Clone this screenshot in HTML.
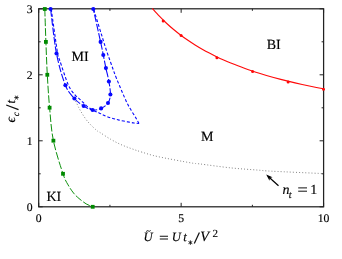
<!DOCTYPE html>
<html><head><meta charset="utf-8"><style>
html,body{margin:0;padding:0;background:#fff;}
body{width:342px;height:259px;overflow:hidden;}
svg{display:block;will-change:transform;}
text{font-family:"Liberation Serif",serif;fill:#000;stroke:#000;stroke-width:0.15px;text-rendering:geometricPrecision;}
</style></head><body>
<svg width="342" height="259" viewBox="0 0 342 259">
<rect width="342" height="259" fill="#fff"/>
<rect x="38.7" y="8.8" width="284.9" height="198.0" fill="none" stroke="#222" stroke-width="1.25"/>
<path d="M38.70 206.80v-4.0M38.70 8.80v4.0M109.93 206.80v-2.0M109.93 8.80v2.0M181.15 206.80v-4.0M181.15 8.80v4.0M252.38 206.80v-2.0M252.38 8.80v2.0M323.60 206.80v-4.0M323.60 8.80v4.0M38.70 206.80h4.0M323.60 206.80h-4.0M38.70 173.80h2.0M323.60 173.80h-2.0M38.70 140.80h4.0M323.60 140.80h-4.0M38.70 107.80h2.0M323.60 107.80h-2.0M38.70 74.80h4.0M323.60 74.80h-4.0M38.70 41.80h2.0M323.60 41.80h-2.0M38.70 8.80h4.0M323.60 8.80h-4.0" stroke="#222" stroke-width="1" fill="none"/>
<path d="M74.40 98.50 C74.68 99.08 75.08 99.95 76.10 102.00 C77.12 104.05 78.60 107.58 80.50 110.80 C82.40 114.02 84.87 118.08 87.50 121.30 C90.13 124.52 94.22 128.23 96.30 130.10 C98.38 131.97 97.63 130.98 100.00 132.50 C102.37 134.02 107.00 137.18 110.50 139.20 C114.00 141.22 117.48 143.02 121.00 144.60 C124.52 146.18 128.08 147.43 131.60 148.70 C135.12 149.97 137.72 150.88 142.10 152.20 C146.48 153.52 149.75 154.82 157.90 156.60 C166.05 158.38 184.05 161.68 191.00 162.90 C197.95 164.12 192.95 163.07 199.60 163.90 C206.25 164.73 221.17 166.87 230.90 167.90 C240.63 168.93 251.17 169.55 258.00 170.10 C264.83 170.65 260.98 170.62 271.90 171.20 C282.82 171.78 314.90 173.20 323.50 173.60" stroke="#777" stroke-width="0.95" stroke-dasharray="0.95 2.12" fill="none"/>
<path d="M44.80 9.00 C44.98 14.48 45.48 30.93 45.90 41.90 C46.32 52.87 46.68 63.83 47.30 74.80 C47.92 85.77 48.58 96.72 49.60 107.70 C50.62 118.68 51.17 129.68 53.40 140.70 C55.63 151.72 60.55 166.43 63.00 173.80 C65.45 181.17 66.33 181.68 68.10 184.90 C69.87 188.12 71.78 190.83 73.60 193.10 C75.42 195.37 76.90 196.70 79.00 198.50 C81.10 200.30 83.92 202.52 86.20 203.90 C88.48 205.28 91.62 206.32 92.70 206.80" stroke="#008a00" stroke-width="0.95" stroke-dasharray="7.6 2" fill="none"/>
<rect x="42.90" y="7.10" width="3.8" height="3.8" fill="#008a00"/>
<rect x="44.00" y="40.00" width="3.8" height="3.8" fill="#008a00"/>
<rect x="45.40" y="72.90" width="3.8" height="3.8" fill="#008a00"/>
<rect x="47.70" y="105.80" width="3.8" height="3.8" fill="#008a00"/>
<rect x="51.50" y="138.80" width="3.8" height="3.8" fill="#008a00"/>
<rect x="61.10" y="171.90" width="3.8" height="3.8" fill="#008a00"/>
<rect x="90.80" y="204.90" width="3.8" height="3.8" fill="#008a00"/>
<path d="M50.60 9.00 C51.58 16.42 54.03 40.80 56.50 53.50 C58.97 66.20 62.42 77.70 65.40 85.20 C68.38 92.70 71.35 95.03 74.40 98.50 C77.45 101.97 80.67 104.08 83.70 106.00 C86.73 107.92 89.70 109.60 92.60 110.00 C95.50 110.40 98.53 109.57 101.10 108.40 C103.67 107.23 106.45 105.32 108.00 103.00 C109.55 100.68 110.25 98.08 110.40 94.50 C110.55 90.92 109.65 85.90 108.90 81.50 C108.15 77.10 106.83 72.52 105.90 68.10 C104.97 63.68 104.18 59.37 103.30 55.00 C102.42 50.63 102.27 49.57 100.60 41.90 C98.93 34.23 94.52 14.48 93.30 9.00" stroke="#0808ff" stroke-width="1.1" stroke-dasharray="7.6 1.8" fill="none"/>
<circle cx="50.60" cy="9.00" r="2.05" fill="#0808ff"/>
<circle cx="56.50" cy="53.50" r="2.05" fill="#0808ff"/>
<circle cx="65.40" cy="85.20" r="2.05" fill="#0808ff"/>
<circle cx="74.40" cy="98.50" r="2.05" fill="#0808ff"/>
<circle cx="83.70" cy="106.00" r="2.05" fill="#0808ff"/>
<circle cx="92.60" cy="110.00" r="2.05" fill="#0808ff"/>
<circle cx="101.10" cy="108.40" r="2.05" fill="#0808ff"/>
<circle cx="108.00" cy="103.00" r="2.05" fill="#0808ff"/>
<circle cx="110.40" cy="94.50" r="2.05" fill="#0808ff"/>
<circle cx="108.90" cy="81.50" r="2.05" fill="#0808ff"/>
<circle cx="105.90" cy="68.10" r="2.05" fill="#0808ff"/>
<circle cx="103.30" cy="55.00" r="2.05" fill="#0808ff"/>
<circle cx="100.60" cy="41.90" r="2.05" fill="#0808ff"/>
<circle cx="93.30" cy="9.00" r="2.05" fill="#0808ff"/>
<path d="M51.20 9.00 C52.27 16.42 56.20 45.00 57.60 53.50 C59.00 62.00 57.80 54.73 59.60 60.00 C61.40 65.27 65.80 79.25 68.40 85.10 C71.00 90.95 73.18 92.65 75.20 95.10 C77.22 97.55 78.65 98.05 80.50 99.80 C82.35 101.55 84.30 103.90 86.30 105.60 C88.30 107.30 90.37 108.78 92.50 110.00 C94.63 111.22 97.32 112.08 99.10 112.90 C100.88 113.72 101.63 114.18 103.20 114.90 C104.77 115.62 106.75 116.57 108.50 117.20 C110.25 117.83 111.95 118.22 113.70 118.70 C115.45 119.18 116.65 119.57 119.00 120.10 C121.35 120.63 125.30 121.42 127.80 121.90 C130.30 122.38 132.13 122.73 134.00 123.00 C135.87 123.27 138.17 123.42 139.00 123.50" stroke="#0808ff" stroke-width="1.1" stroke-dasharray="3 2" fill="none"/>
<path d="M139.00 123.50 C138.50 122.60 137.28 120.27 136.00 118.10 C134.72 115.93 132.92 113.28 131.30 110.50 C129.68 107.72 128.72 106.62 126.30 101.40 C123.88 96.18 119.32 85.43 116.80 79.20 C114.28 72.97 112.95 68.87 111.20 64.00 C109.45 59.13 107.95 55.00 106.30 50.00 C104.65 45.00 103.42 40.83 101.30 34.00 C99.18 27.17 94.88 13.17 93.60 9.00" stroke="#0808ff" stroke-width="1.1" stroke-dasharray="3 2" fill="none"/>
<path d="M152.23 8.30 C153.42 9.62 156.99 13.72 159.37 16.22 C161.75 18.71 164.13 21.03 166.51 23.25 C168.89 25.47 171.27 27.55 173.65 29.54 C176.03 31.53 178.41 33.40 180.79 35.20 C183.17 36.99 185.55 38.69 187.93 40.31 C190.31 41.94 192.69 43.48 195.07 44.96 C197.45 46.44 199.83 47.85 202.21 49.20 C204.59 50.56 206.97 51.85 209.36 53.09 C211.74 54.34 214.12 55.52 216.50 56.67 C218.88 57.81 221.26 58.91 223.64 59.97 C226.02 61.03 228.40 62.04 230.78 63.02 C233.16 64.00 235.54 64.94 237.92 65.86 C240.30 66.77 242.68 67.64 245.06 68.49 C247.44 69.34 249.82 70.16 252.20 70.96 C254.58 71.75 256.96 72.52 259.34 73.26 C261.72 74.00 264.10 74.72 266.48 75.42 C268.86 76.12 271.24 76.79 273.62 77.45 C276.00 78.10 278.38 78.74 280.76 79.35 C283.14 79.97 285.52 80.57 287.90 81.15 C290.28 81.73 292.66 82.30 295.04 82.85 C297.42 83.40 299.80 83.94 302.18 84.46 C304.56 84.98 306.94 85.48 309.32 85.98 C311.70 86.47 314.08 86.95 316.46 87.42 C318.84 87.89 322.41 88.56 323.60 88.79" stroke="#ff0808" stroke-width="1.1" fill="none"/>
<circle cx="163.20" cy="21.00" r="1.5" fill="#ff0808"/>
<circle cx="181.10" cy="35.40" r="1.5" fill="#ff0808"/>
<circle cx="216.90" cy="57.70" r="1.5" fill="#ff0808"/>
<circle cx="252.60" cy="71.60" r="1.5" fill="#ff0808"/>
<circle cx="288.10" cy="81.90" r="1.5" fill="#ff0808"/>
<circle cx="323.50" cy="89.20" r="1.5" fill="#ff0808"/>
<path d="M278.5 185.8L269.9 178.0" stroke="#000" stroke-width="1.2" fill="none"/>
<path d="M266.2 174.6L272.55 177.3L269.9 178.0L269.45 180.7Z" fill="#000"/>
<text x="32.5" y="210.8" font-size="11.7" text-anchor="end" >0</text>
<text x="32.5" y="144.8" font-size="11.7" text-anchor="end" >1</text>
<text x="32.5" y="78.8" font-size="11.7" text-anchor="end" >2</text>
<text x="32.5" y="12.8" font-size="11.7" text-anchor="end" >3</text>
<text x="38.7" y="222.0" font-size="11.7" text-anchor="middle" >0</text>
<text x="181.2" y="222.0" font-size="11.7" text-anchor="middle" >5</text>
<text x="323.6" y="222.0" font-size="11.7" text-anchor="middle" >10</text>
<text x="71.5" y="61.0" font-size="14" text-anchor="start" >MI</text>
<text x="266.7" y="48.8" font-size="14" text-anchor="start" >BI</text>
<text x="201.0" y="140.5" font-size="14" text-anchor="start" >M</text>
<text x="46.5" y="200.6" font-size="14" text-anchor="start" >KI</text>
<text x="282.4" y="194.0" font-size="14" text-anchor="start" font-style="italic">n</text>
<text x="288.8" y="197.6" font-size="10" text-anchor="start" font-style="italic">t</text>
<path d="M298.2 187.9h8.8M298.2 191.2h8.8" stroke="#111" stroke-width="1" fill="none"/>
<text x="310.2" y="194.0" font-size="14" text-anchor="start" >1</text>
<text x="143.5" y="241.0" font-size="12.7" text-anchor="start" font-style="italic" stroke="#000" stroke-width="0.25">U</text>
<path d="M146.2 231.5q1.1-1.3 2.2-0.5t2.2-0.5" stroke="#111" stroke-width="1.0" fill="none"/>
<path d="M159.8 236.3h8.2M159.8 239.0h8.2" stroke="#111" stroke-width="1.05" fill="none"/>
<text x="171.8" y="241.0" font-size="12.7" text-anchor="start" font-style="italic" stroke="#000" stroke-width="0.25">U</text>
<text x="183.3" y="241.0" font-size="12.7" text-anchor="start" font-style="italic" stroke="#000" stroke-width="0.25">t</text>
<path d="M190.40 240.40L190.40 244.80M188.49 241.50L192.31 243.70M192.31 241.50L188.49 243.70" stroke="#111" stroke-width="0.9" fill="none"/>
<path d="M194.3 243.6L199.4 232.5" stroke="#111" stroke-width="1.25" fill="none"/>
<text x="200.3" y="241.0" font-size="14.3" text-anchor="start" font-style="italic" stroke="#000" stroke-width="0.25">V</text>
<text x="212.4" y="236.8" font-size="11" text-anchor="start" >2</text>
<g transform="translate(15.1,123) rotate(-90)">
<text x="0.6" y="0.2" font-size="13.4" text-anchor="start" font-style="italic" stroke="#000" stroke-width="0.25">ϵ</text>
<text x="6.7" y="3.5" font-size="9.2" text-anchor="start" font-style="italic" stroke="#000" stroke-width="0.25">c</text>
<path d="M13.4 3.4L18 -8.9" stroke="#111" stroke-width="1.25" fill="none"/>
<text x="19.6" y="0.0" font-size="12.7" text-anchor="start" font-style="italic" stroke="#000" stroke-width="0.25">t</text>
<path d="M25.40 -0.80L25.40 3.60M23.49 0.30L27.31 2.50M27.31 0.30L23.49 2.50" stroke="#111" stroke-width="0.9" fill="none"/>
</g>
</svg>
</body></html>
